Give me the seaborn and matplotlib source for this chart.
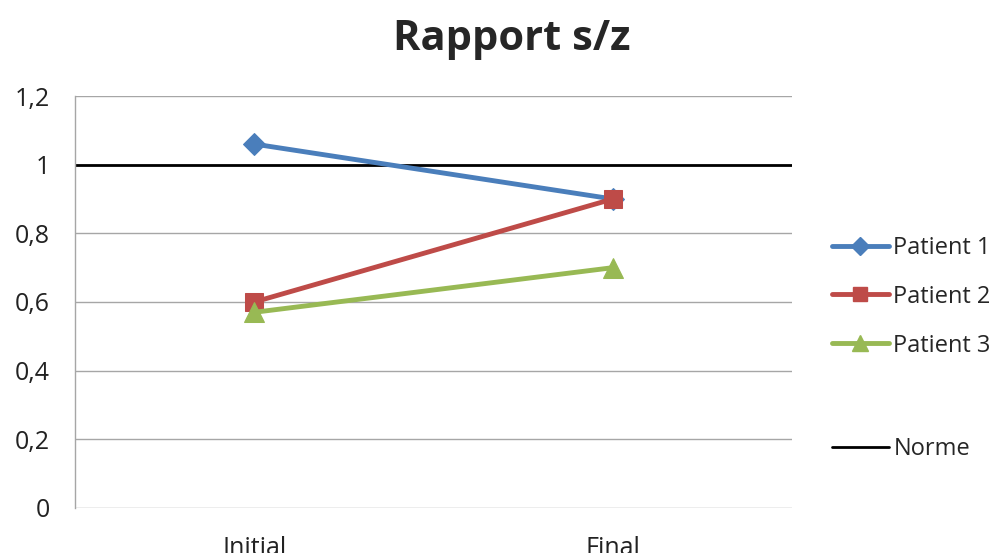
#!/usr/bin/env python3

import matplotlib
matplotlib.use('Agg')
import matplotlib.pyplot as plt
from matplotlib.lines import Line2D
import pandas as pd
import seaborn as sns

moments = ['Initial', 'Final']
patients = ['Patient 1', 'Patient 2', 'Patient 3']
patient1 = [1.06, 0.90]
patient2 = [0.60, 0.90]
patient3 = [0.57, 0.70]
norme = 1.0
y_ticks = [0, 0.2, 0.4, 0.6, 0.8, 1.0, 1.2]
y_labels = ['0', '0,2', '0,4', '0,6', '0,8', '1', '1,2']

sns.set_style('white')
plt.rcParams['font.family'] = ['Open Sans', 'DejaVu Sans']

rows = []
for name, vals in zip(patients, [patient1, patient2, patient3]):
    for m, v in zip(moments, vals):
        rows.append({'moment': m, 'valeur': v, 'patient': name})
df = pd.DataFrame(rows)

colors = {'Patient 1': '#4A7EBB', 'Patient 2': '#BE4B48', 'Patient 3': '#98B954'}
markers = {'Patient 1': 'D', 'Patient 2': 's', 'Patient 3': '^'}
sizes = {'Patient 1': 11, 'Patient 2': 13, 'Patient 3': 14}

fig = plt.figure(figsize=(10.03, 5.53), dpi=100)
ax = fig.add_axes([0.0748, 0.0814, 0.7149, 0.745])

# grid lines first
for t in y_ticks:
    ax.axhline(t, color='#a6a6a6', linewidth=1, zorder=0)
ax.axhline(norme, color='black', linewidth=2, zorder=1)

for name in patients:
    sub = df[df['patient'] == name]
    sns.lineplot(data=sub, x='moment', y='valeur', color=colors[name],
                 marker=markers[name], markersize=sizes[name],
                 markeredgecolor=colors[name], linewidth=3.5, sort=False,
                 ax=ax, zorder=3)

ax.set_xlim(-0.5, 1.5)
ax.set_ylim(0, 1.2)
ax.set_yticks(y_ticks)
ax.set_yticklabels(y_labels, fontsize=18, color='#222222')
ax.set_xticks([0, 1])
ax.set_xticklabels(moments, fontsize=18, color='#222222')
ax.tick_params(axis='both', length=0)
ax.tick_params(axis='y', pad=18)
ax.tick_params(axis='x', pad=20)
ax.set_xlabel('')
ax.set_ylabel('')
for side in ['top', 'right', 'bottom']:
    ax.spines[side].set_visible(False)
ax.spines['left'].set_color('#a6a6a6')
ax.spines['left'].set_linewidth(1)

fig.suptitle('Rapport s/z', x=0.51, y=0.965, fontsize=30, fontweight='bold')

handles = []
for name in patients:
    handles.append(Line2D([], [], color=colors[name], marker=markers[name],
                          markersize=sizes[name] * 0.8, linewidth=3.5, label=name))
handles.append(Line2D([], [], color='none', label=' '))
handles.append(Line2D([], [], color='black', linewidth=2, label='Norme'))
leg = ax.legend(handles=handles, loc='center left', bbox_to_anchor=(1.026, 0.387),
                frameon=False, fontsize=17, handlelength=2.4, handletextpad=0.2,
                labelspacing=1.05, borderaxespad=0.5)
leg.get_texts()[3].set_fontsize(22)

plt.savefig('out.png', dpi=100)
plt.close()
